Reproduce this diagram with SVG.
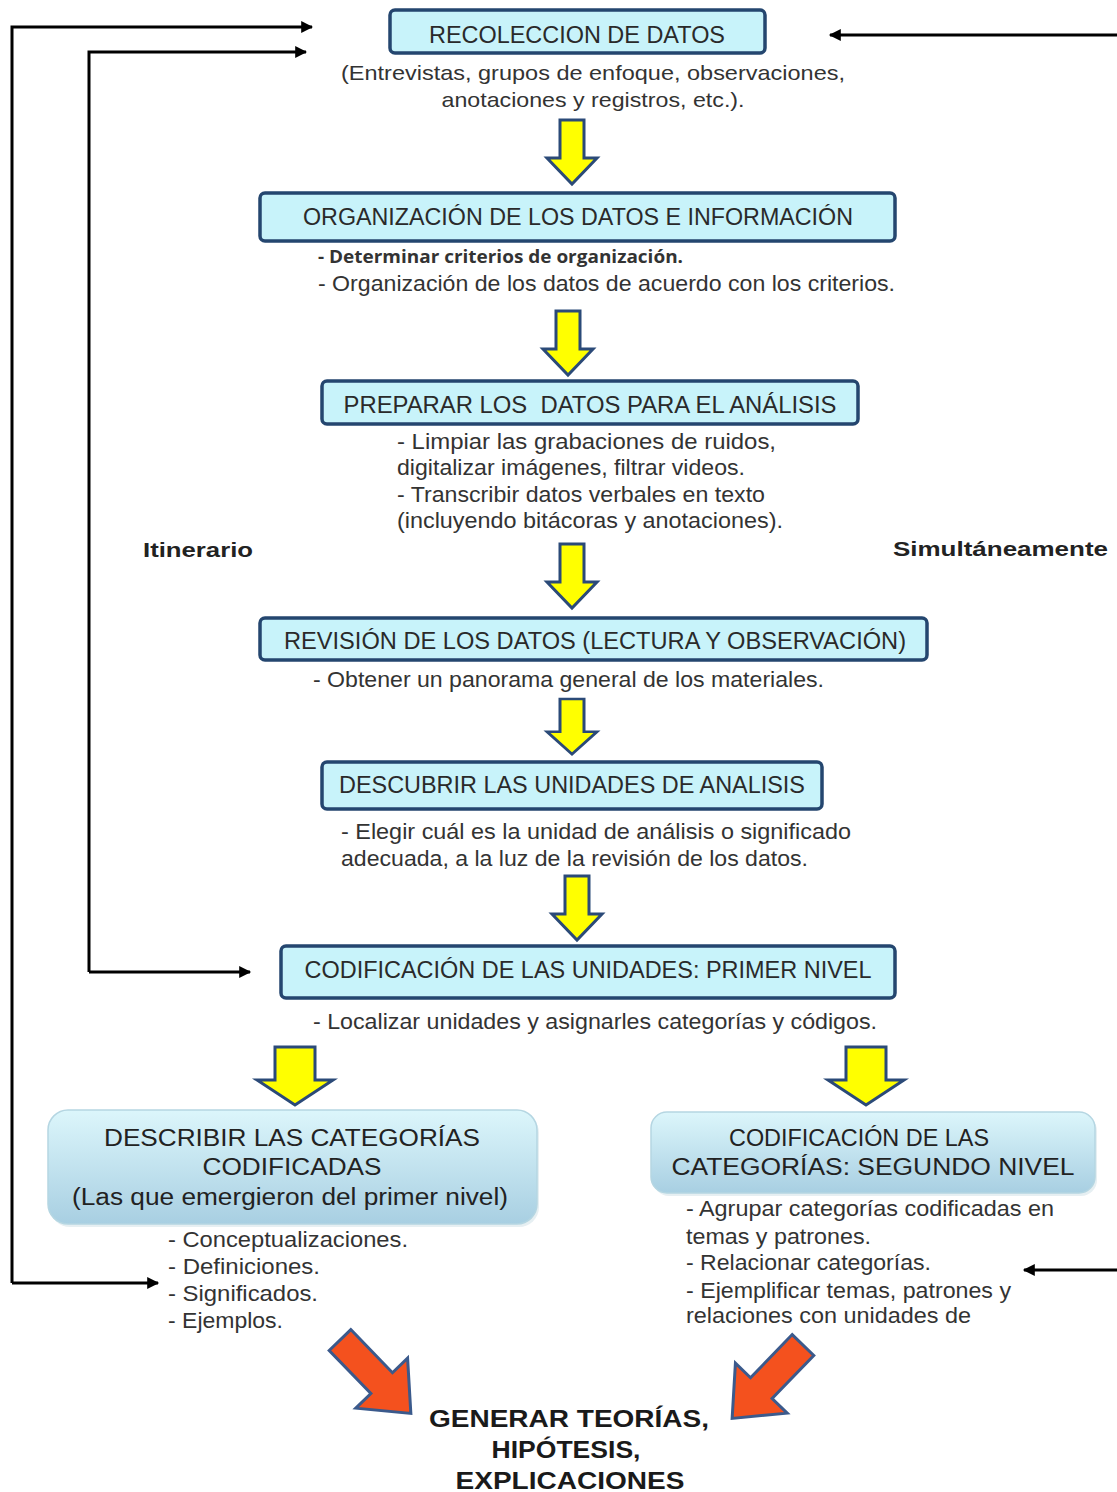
<svg xmlns="http://www.w3.org/2000/svg" width="1117" height="1492" viewBox="0 0 1117 1492">
<defs>
<style>
.box{fill:#c8f3fa;stroke:#24466f;stroke-width:3.5}
.bt{font-family:"Liberation Sans",Arial,sans-serif;font-size:23px;fill:#2a2a2a;text-anchor:middle}
.dt{font-family:"Liberation Sans",Arial,sans-serif;font-size:22px;fill:#333}
.dtc{font-family:"Liberation Sans",Arial,sans-serif;font-size:21px;fill:#333;text-anchor:middle}
.cal{font-family:"Open Sans","Liberation Sans",sans-serif;font-size:17px;font-weight:bold;fill:#333}
.bold{font-family:"Liberation Sans",Arial,sans-serif;font-size:21px;font-weight:bold;fill:#222}
.big{font-family:"Liberation Sans",Arial,sans-serif;font-size:24px;font-weight:bold;fill:#1a1a1a;text-anchor:middle}
.gt{font-family:"Liberation Sans",Arial,sans-serif;font-size:23px;fill:#222;text-anchor:middle}
.yarrow{fill:#ffff00;stroke:#2b4a78;stroke-width:3;stroke-linejoin:miter}
.rarrow{fill:#f4511e;stroke:#3b5a8c;stroke-width:3}
.conn{fill:none;stroke:#000;stroke-width:3}
.gbox{fill:url(#g);stroke:#b5d6e2;stroke-width:1.5}
</style>
<linearGradient id="g" x1="0" y1="0" x2="0" y2="1">
<stop offset="0" stop-color="#dcf6fb"/>
<stop offset="1" stop-color="#a8cfe2"/>
</linearGradient>
<marker id="ah" viewBox="0 0 10 10" refX="9" refY="5" markerWidth="4.2" markerHeight="4" orient="auto" markerUnits="strokeWidth">
<path d="M0,0 L10,5 L0,10 Z" fill="#000"/>
</marker>
<path id="ya" d="M-12,0 H12 V38 H25 L0,64 L-25,38 H-12 Z"/>
<path id="yb" d="M-20,0 H20 V33 H38 L0,58 L-38,33 H-20 Z"/>
<path id="ra" d="M0,-15 H60 V-36 L102,0 L60,36 V15 H0 Z"/>
</defs>

<g id="connectors">
<path class="conn" d="M12,1283 V27 H312" marker-end="url(#ah)"/>
<path class="conn" d="M89,972 V52 H306" marker-end="url(#ah)"/>
<path class="conn" d="M89,972 H250" marker-end="url(#ah)"/>
<path class="conn" d="M12,1283 H158" marker-end="url(#ah)"/>
<path class="conn" d="M1117,35 H830" marker-end="url(#ah)"/>
<path class="conn" d="M1117,1270 H1024" marker-end="url(#ah)"/>
<use href="#ya" class="yarrow" transform="translate(572,120)"/>
<use href="#ya" class="yarrow" transform="translate(568,311)"/>
<use href="#ya" class="yarrow" transform="translate(572,544)"/>
<use href="#ya" class="yarrow" transform="translate(572,699) scale(1,0.86)"/>
<use href="#ya" class="yarrow" transform="translate(577,876)"/>
<use href="#yb" class="yarrow" transform="translate(295,1047)"/>
<use href="#yb" class="yarrow" transform="translate(866,1047)"/>
<use href="#ra" class="rarrow" transform="translate(340,1340) rotate(46)"/>
<use href="#ra" class="rarrow" transform="translate(803,1345) rotate(134)"/>
</g>

<g id="n1">
<rect class="box" x="390" y="10" width="375" height="43" rx="5"/>
<text class="bt" x="577" y="43" textLength="296" lengthAdjust="spacingAndGlyphs">RECOLECCION DE DATOS</text>
<text class="dtc" x="593" y="80" textLength="504" lengthAdjust="spacingAndGlyphs">(Entrevistas, grupos de enfoque, observaciones,</text>
<text class="dtc" x="593" y="107" textLength="303" lengthAdjust="spacingAndGlyphs">anotaciones y registros, etc.).</text>
</g>

<g id="n2">
<rect class="box" x="260" y="193" width="635" height="48" rx="5"/>
<text class="bt" x="578" y="225" textLength="550" lengthAdjust="spacingAndGlyphs">ORGANIZACIÓN DE LOS DATOS E INFORMACIÓN</text>
<text class="cal" x="318" y="263" textLength="365" lengthAdjust="spacingAndGlyphs">- Determinar criterios de organización.</text>
<text class="dt" x="318" y="291" textLength="577" lengthAdjust="spacingAndGlyphs">- Organización de los datos de acuerdo con los criterios.</text>
</g>

<g id="n3">
<rect class="box" x="322" y="381" width="536" height="43" rx="5"/>
<text class="bt" x="590" y="413" textLength="493" lengthAdjust="spacingAndGlyphs" xml:space="preserve">PREPARAR LOS  DATOS PARA EL ANÁLISIS</text>
<text class="dt" x="397" y="449" textLength="379" lengthAdjust="spacingAndGlyphs">- Limpiar las grabaciones de ruidos,</text>
<text class="dt" x="397" y="475" textLength="348" lengthAdjust="spacingAndGlyphs">digitalizar imágenes, filtrar videos.</text>
<text class="dt" x="397" y="502" textLength="368" lengthAdjust="spacingAndGlyphs">- Transcribir datos verbales en texto</text>
<text class="dt" x="397" y="528" textLength="386" lengthAdjust="spacingAndGlyphs">(incluyendo bitácoras y anotaciones).</text>
</g>

<g id="labels">
<text class="bold" x="143" y="557" textLength="110" lengthAdjust="spacingAndGlyphs">Itinerario</text>
<text class="bold" x="893" y="556" textLength="215" lengthAdjust="spacingAndGlyphs">Simultáneamente</text>
</g>

<g id="n4">
<rect class="box" x="260" y="618" width="667" height="42" rx="5"/>
<text class="bt" x="595" y="649" textLength="622" lengthAdjust="spacingAndGlyphs">REVISIÓN DE LOS DATOS (LECTURA Y OBSERVACIÓN)</text>
<text class="dt" x="313" y="687" textLength="511" lengthAdjust="spacingAndGlyphs">- Obtener un panorama general de los materiales.</text>
</g>

<g id="n5">
<rect class="box" x="322" y="762" width="500" height="47" rx="5"/>
<text class="bt" x="572" y="793" textLength="466" lengthAdjust="spacingAndGlyphs">DESCUBRIR LAS UNIDADES DE ANALISIS</text>
<text class="dt" x="341" y="839" textLength="510" lengthAdjust="spacingAndGlyphs">- Elegir cuál es la unidad de análisis o significado</text>
<text class="dt" x="341" y="866" textLength="467" lengthAdjust="spacingAndGlyphs">adecuada, a la luz de la revisión de los datos.</text>
</g>

<g id="n6">
<rect class="box" x="281" y="946" width="614" height="52" rx="5"/>
<text class="bt" x="588" y="978" textLength="567" lengthAdjust="spacingAndGlyphs">CODIFICACIÓN DE LAS UNIDADES: PRIMER NIVEL</text>
<text class="dt" x="313" y="1029" textLength="564" lengthAdjust="spacingAndGlyphs">- Localizar unidades y asignarles categorías y códigos.</text>
</g>

<g id="n7">
<rect x="50" y="1113" width="489" height="114" rx="20" fill="#d6e4ea" opacity="0.6"/>
<rect class="gbox" x="48" y="1110" width="489" height="114" rx="20"/>
<text class="gt" x="292" y="1146" textLength="376" lengthAdjust="spacingAndGlyphs">DESCRIBIR LAS CATEGORÍAS</text>
<text class="gt" x="292" y="1175" textLength="179" lengthAdjust="spacingAndGlyphs">CODIFICADAS</text>
<text class="gt" x="290" y="1205" textLength="436" lengthAdjust="spacingAndGlyphs">(Las que emergieron del primer nivel)</text>
<text class="dt" x="168" y="1247" textLength="240" lengthAdjust="spacingAndGlyphs">- Conceptualizaciones.</text>
<text class="dt" x="168" y="1274" textLength="152" lengthAdjust="spacingAndGlyphs">- Definiciones.</text>
<text class="dt" x="168" y="1301" textLength="150" lengthAdjust="spacingAndGlyphs">- Significados.</text>
<text class="dt" x="168" y="1328" textLength="115" lengthAdjust="spacingAndGlyphs">- Ejemplos.</text>
</g>

<g id="n8">
<rect x="653" y="1115" width="444" height="81" rx="16" fill="#d6e4ea" opacity="0.6"/>
<rect class="gbox" x="651" y="1112" width="444" height="81" rx="16"/>
<text class="gt" x="859" y="1146" textLength="260" lengthAdjust="spacingAndGlyphs">CODIFICACIÓN DE LAS</text>
<text class="gt" x="873" y="1175" textLength="403" lengthAdjust="spacingAndGlyphs">CATEGORÍAS: SEGUNDO NIVEL</text>
<text class="dt" x="686" y="1216" textLength="368" lengthAdjust="spacingAndGlyphs">- Agrupar categorías codificadas en</text>
<text class="dt" x="686" y="1244" textLength="185" lengthAdjust="spacingAndGlyphs">temas y patrones.</text>
<text class="dt" x="686" y="1270" textLength="245" lengthAdjust="spacingAndGlyphs">- Relacionar categorías.</text>
<text class="dt" x="686" y="1298" textLength="325" lengthAdjust="spacingAndGlyphs">- Ejemplificar temas, patrones y</text>
<text class="dt" x="686" y="1323" textLength="285" lengthAdjust="spacingAndGlyphs">relaciones con unidades de</text>
</g>

<g id="n9">
<text class="big" x="569" y="1427" textLength="280" lengthAdjust="spacingAndGlyphs">GENERAR TEORÍAS,</text>
<text class="big" x="566" y="1458" textLength="149" lengthAdjust="spacingAndGlyphs">HIPÓTESIS,</text>
<text class="big" x="570" y="1489" textLength="229" lengthAdjust="spacingAndGlyphs">EXPLICACIONES</text>
</g>
</svg>
